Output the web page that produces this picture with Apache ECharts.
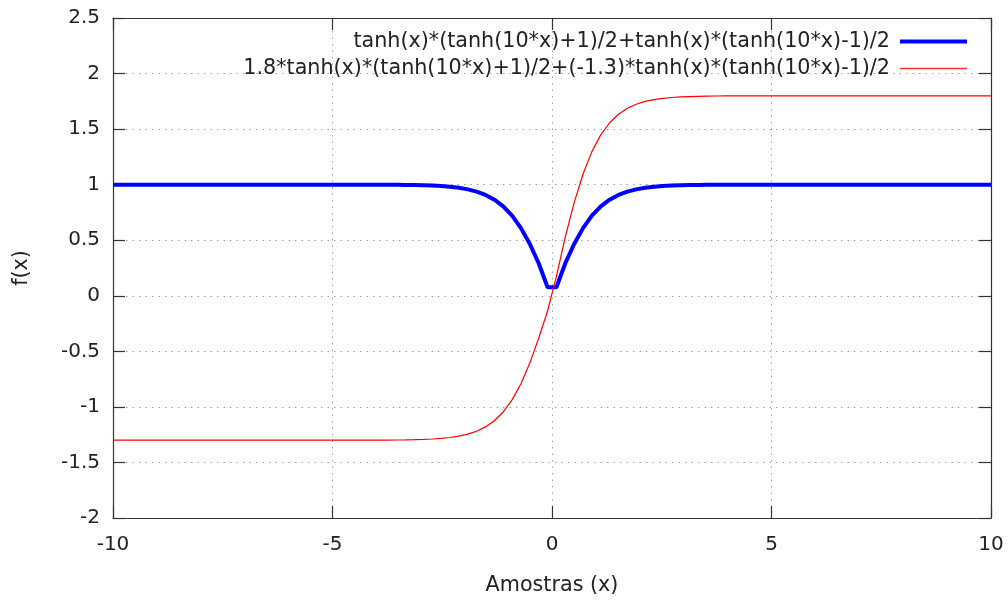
<!DOCTYPE html>
<html>
<head>
<meta charset="utf-8">
<script src="https://cdn.jsdelivr.net/npm/echarts@6/dist/echarts.min.js"></script>
<style>
html,body{margin:0;padding:0;background:#fff;}
#c{width:1008px;height:601px;}
</style>
</head>
<body>
<div id="c"></div>
<script>
var seriesNames = [
  'tanh(x)*(tanh(10*x)+1)/2+tanh(x)*(tanh(10*x)-1)/2',
  '1.8*tanh(x)*(tanh(10*x)+1)/2+(-1.3)*tanh(x)*(tanh(10*x)-1)/2'
];
var xs = [-10,
  -4.141, -3.939, -3.737, -3.535, -3.333, -3.131, -2.929, -2.727, -2.525, -2.323, -2.121,
  -1.919, -1.717, -1.515, -1.313, -1.111, -0.909, -0.707, -0.505, -0.303, -0.101,
  0.101, 0.303, 0.505, 0.707, 0.909, 1.111, 1.313, 1.515, 1.717, 1.919,
  2.121, 2.323, 2.525, 2.727, 2.929, 3.131, 3.333, 3.535, 3.737, 3.939, 4.141,
  10];
var blueY = [1,
  0.9995, 0.9992, 0.9989, 0.9983, 0.9975, 0.9962, 0.9943, 0.9915, 0.9873, 0.9810, 0.9717,
  0.9578, 0.9375, 0.9079, 0.8651, 0.8045, 0.7207, 0.6089, 0.4661, 0.2927, 0.0771,
  0.0771, 0.2927, 0.4661, 0.6089, 0.7207, 0.8045, 0.8651, 0.9079, 0.9375, 0.9578,
  0.9717, 0.9810, 0.9873, 0.9915, 0.9943, 0.9962, 0.9975, 0.9983, 0.9989, 0.9992, 0.9995,
  1];
var redY = [-1.3,
  -1.2993, -1.2990, -1.2985, -1.2978, -1.2967, -1.2951, -1.2926, -1.2889, -1.2835, -1.2753, -1.2632,
  -1.2452, -1.2188, -1.1802, -1.1246, -1.0458, -0.9369, -0.7915, -0.6059, -0.3827, -0.1368,
  0.1753, 0.5290, 0.8390, 1.0960, 1.2972, 1.4480, 1.5571, 1.6341, 1.6875, 1.7241,
  1.7490, 1.7658, 1.7771, 1.7847, 1.7897, 1.7932, 1.7954, 1.7969, 1.7980, 1.7986, 1.7991,
  1.8];

function pairs(x, y){ var o=[]; for(var i=0;i<x.length;i++) o.push([x[i], y[i]]); return o; }

var FONT = 'DejaVu Sans';
var TXT = '#222';
var gridLine = {show:true, lineStyle:{color:'#a0a0a0', width:1, type:[1.5,5]}};
var axLine = {show:true, onZero:false, lineStyle:{color:'#333', width:1.2}};
var tick = {show:true, inside:true, length:12, lineStyle:{color:'#333', width:1.2}};

var chart = echarts.init(document.getElementById('c'), null, {renderer:'canvas'});
chart.setOption({
  animation:false,
  backgroundColor:'#fff',
  textStyle:{fontFamily:FONT},
  grid:{left:113, right:17, top:18, bottom:78.5, containLabel:false},
  legend:[
    {data:[seriesNames[0]], orient:'vertical', align:'right', right:41, top:31, padding:0,
     icon:'rect', itemWidth:67, itemHeight:4, itemGap:0, selectedMode:false,
     itemStyle:{color:'#0000ff', borderWidth:0},
     textStyle:{fontFamily:FONT, fontSize:20.7, color:TXT, padding:[0,5,0,0]}},
    {data:[seriesNames[1]], orient:'vertical', align:'right', right:41, top:58, padding:0,
     icon:'rect', itemWidth:67, itemHeight:1.4, itemGap:0, selectedMode:false,
     itemStyle:{color:'#ff3030', borderWidth:0},
     textStyle:{fontFamily:FONT, fontSize:20.7, color:TXT, padding:[0,5,0,0]}}
  ],
  xAxis:[
    {type:'value', min:-10, max:10, interval:5, position:'bottom',
     axisLine:axLine, axisTick:tick, splitLine:gridLine,
     axisLabel:{fontFamily:FONT, fontSize:20, color:TXT, margin:17},
     name:'Amostras (x)', nameLocation:'middle', nameGap:57,
     nameTextStyle:{fontFamily:FONT, fontSize:20.7, color:TXT}},
    {type:'value', min:-10, max:10, interval:5, position:'top',
     axisLine:axLine, axisTick:tick, splitLine:{show:false}, axisLabel:{show:false}}
  ],
  yAxis:[
    {type:'value', min:-2, max:2.5, interval:0.5, position:'left',
     axisLine:axLine, axisTick:tick, splitLine:gridLine,
     axisLabel:{fontFamily:FONT, fontSize:20, color:TXT, margin:13},
     name:'f(x)', nameLocation:'middle', nameGap:81, nameRotate:90,
     nameTextStyle:{fontFamily:FONT, fontSize:20.7, color:TXT}},
    {type:'value', min:-2, max:2.5, interval:0.5, position:'right',
     axisLine:axLine, axisTick:tick, splitLine:{show:false}, axisLabel:{show:false}}
  ],
  series:[
    {name:seriesNames[0], type:'line', data:pairs(xs, blueY), showSymbol:false, symbol:'none',
     lineStyle:{color:'#0000ff', width:4}, itemStyle:{color:'#0000ff'}, z:2},
    {name:seriesNames[1], type:'line', data:pairs(xs, redY), showSymbol:false, symbol:'none',
     lineStyle:{color:'#ff0000', width:1.2}, itemStyle:{color:'#ff0000'}, z:3}
  ]
});
</script>
</body>
</html>
